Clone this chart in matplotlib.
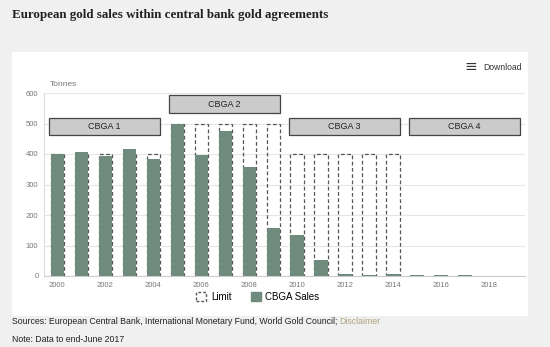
import matplotlib.pyplot as plt
from matplotlib.patches import Rectangle, Patch

# CBGA sales (tonnes) and agreement limits
years = list(range(2000, 2018))
sales = [400, 405, 393, 418, 385, 497, 396, 476, 357, 157, 136, 53, 5, 3, 5, 4, 2, 4]
limit_years = list(range(2000, 2015))
limits = [400] * 5 + [500] * 5 + [400] * 5

agreements = ["CBGA 1", "CBGA 2", "CBGA 3", "CBGA 4"]
agr_start = [2000, 2005, 2010, 2015]
agr_end = [2004, 2009, 2014, 2019]
agr_low = [462, 534, 462, 462]
agr_high = [518, 593, 518, 518]

green = "#6e8b7d"
grey_txt = "#777777"
sans = "Liberation Sans"

fig = plt.figure(figsize=(5.5, 3.47), dpi=100)
fig.patch.set_facecolor("#f0f0f0")

# white chart panel
fig.patches.append(Rectangle((12 / 550, 1 - 316 / 347), 516 / 550, 264 / 347,
                             transform=fig.transFigure, facecolor="white",
                             edgecolor="none", zorder=-1))

ax = fig.add_axes([44 / 550, 1 - 276 / 347, 481 / 550, 183 / 347])
ax.set_facecolor("white")

ax.bar(limit_years, limits, width=0.55, facecolor="none", edgecolor="#555555",
       linestyle=(0, (3, 2)), linewidth=0.9, zorder=2)
ax.bar(years, sales, width=0.55, color=green, zorder=3)

for name, s, e, lo, hi in zip(agreements, agr_start, agr_end, agr_low, agr_high):
    ax.add_patch(Rectangle((s - 0.33, lo), (e - s) + 0.62, hi - lo,
                           facecolor="#cbcbcb", edgecolor="#444444",
                           linewidth=0.9, zorder=4))
    ax.text((s + e) / 2 - 0.02, (lo + hi) / 2, name, ha="center", va="center",
            fontsize=6.5, family=sans, color="#222222", zorder=5)

ax.set_xlim(1999.45, 2019.5)
ax.set_ylim(0, 600)
ax.set_yticks(range(0, 601, 100))
ax.set_xticks(range(2000, 2019, 2))
ax.tick_params(labelsize=5.5, colors=grey_txt, length=0, pad=4)
for lab in ax.get_xticklabels() + ax.get_yticklabels():
    lab.set_family(sans)
ax.grid(axis="y", color="#e6e6e6", linewidth=0.8, zorder=0)
ax.set_axisbelow(True)
for sp in ["top", "right"]:
    ax.spines[sp].set_visible(False)
ax.spines["left"].set_color("#dddddd")
ax.spines["bottom"].set_color("#cccccc")

fig.text(50 / 550, 1 - 84 / 347, "Tonnes", fontsize=6, family=sans,
         color=grey_txt, va="center")
fig.text(471 / 550, 1 - 67 / 347, "≡", fontsize=11, color="#333333",
         ha="center", va="center")
fig.text(483 / 550, 1 - 67 / 347, "Download", fontsize=6.2, family=sans,
         color="#333333", va="center")

handles = [Patch(facecolor="none", edgecolor="#555555", linestyle=(0, (2, 1.5))),
           Patch(facecolor=green, edgecolor=green)]
fig.legend(handles, ["Limit", "CBGA Sales"], loc="center",
           bbox_to_anchor=(258 / 550, 1 - 297 / 347), ncol=2, frameon=False,
           prop={"family": sans, "size": 7}, handlelength=1.0, handleheight=1.0,
           columnspacing=2.0, handletextpad=0.5)

fig.text(12 / 550, 1 - 15 / 347, "European gold sales within central bank gold agreements",
         fontsize=9.4, fontweight="bold", family="Liberation Serif", color="#222222",
         va="center")
t = fig.text(12 / 550, 1 - 322 / 347,
             "Sources: European Central Bank, International Monetary Fund, World Gold Council; ",
             fontsize=6.35, family=sans, color="#222222", va="center")
fig.canvas.draw()
bb = t.get_window_extent()
fig.text(bb.x1 / 550, 1 - 322 / 347, "Disclaimer", fontsize=6.35, family=sans,
         color="#b3a47e", va="center")
fig.text(12 / 550, 1 - 340 / 347, "Note: Data to end-June 2017", fontsize=6.35,
         family=sans, color="#222222", va="center")

fig.savefig("out.png", dpi=100, facecolor=fig.get_facecolor())
